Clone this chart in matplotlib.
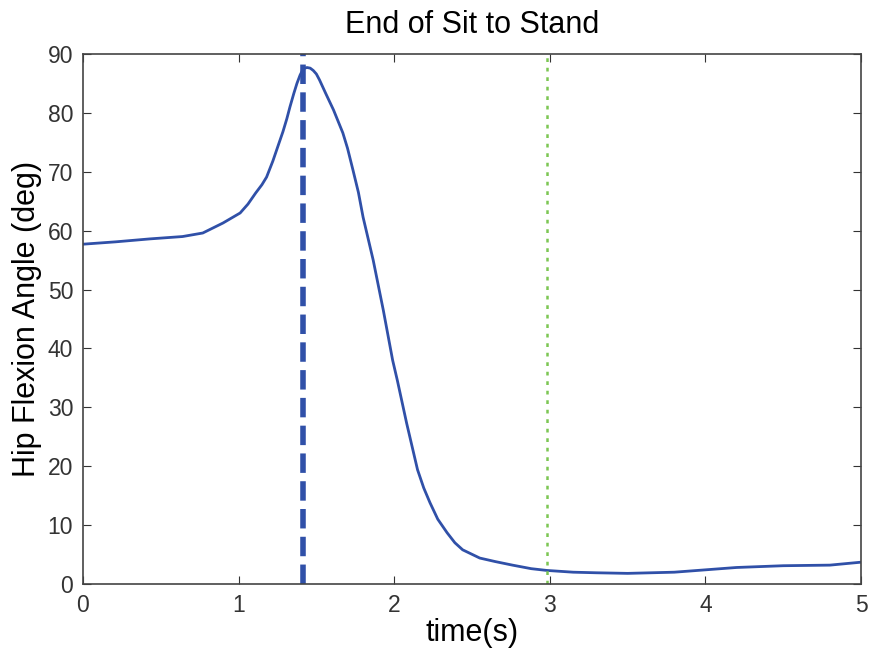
import numpy as np
import matplotlib
matplotlib.use("Agg")
import matplotlib.pyplot as plt

# hip flexion angle trace
time_s = [0.0, 0.21, 0.43, 0.64, 0.77, 0.90, 1.01, 1.06, 1.11, 1.15, 1.18,
          1.22, 1.255, 1.285, 1.31, 1.33, 1.355, 1.375, 1.395, 1.41, 1.425,
          1.44, 1.46, 1.48, 1.50, 1.52, 1.56, 1.61, 1.67, 1.70, 1.735, 1.77,
          1.80, 1.865, 1.93, 1.99, 2.02, 2.08, 2.15, 2.19, 2.23, 2.28, 2.34,
          2.39, 2.44, 2.55, 2.65, 2.76, 2.88, 2.98, 3.15, 3.3, 3.5, 3.8,
          4.0, 4.2, 4.5, 4.8, 5.0]
hip_angle = [57.7, 58.1, 58.6, 59.0, 59.6, 61.3, 63.0, 64.5, 66.4, 67.8, 69.1,
             71.8, 74.5, 76.8, 79.0, 81.0, 83.3, 85.0, 86.4, 87.2, 87.6,
             87.7, 87.6, 87.2, 86.6, 85.6, 83.3, 80.5, 76.6, 74.0, 70.3, 66.5,
             62.3, 55.0, 46.5, 38.0, 34.6, 27.3, 19.4, 16.3, 13.8, 11.0, 8.7,
             7.0, 5.8, 4.4, 3.8, 3.2, 2.6, 2.3, 2.0, 1.9, 1.8, 2.0,
             2.4, 2.8, 3.1, 3.2, 3.7]

peak_time = 1.414
end_time = 2.985

plt.rcParams["font.family"] = ["Liberation Sans", "DejaVu Sans"]

fig = plt.figure(figsize=(8.77, 6.56), dpi=100)
ax = fig.add_axes([0.0946, 0.1098, 0.8872, 0.8079])

ax.plot(time_s, hip_angle, color="#3050a8", lw=2)
ax.axvline(peak_time, color="#3050a8", lw=4, ls=(0, (3.5, 1.5)))
ax.axvline(end_time, color="#7cc653", lw=1.8, ls=(0, (1.5, 2.3)))

ax.set_xlim(0, 5)
ax.set_ylim(0, 90)
ax.set_xticks(range(0, 6))
ax.set_yticks(range(0, 100, 10))
ax.tick_params(direction="in", top=True, right=True, length=6,
               labelsize=16.5, colors="#333333", pad=7)
for s in ax.spines.values():
    s.set_color("#444444")
    s.set_linewidth(1.2)

ax.set_title("End of Sit to Stand", fontsize=22, pad=15)
ax.set_xlabel("time(s)", fontsize=22, labelpad=1)
ax.set_ylabel("Hip Flexion Angle (deg)", fontsize=22, labelpad=4)

fig.savefig("out.png", dpi=100)
